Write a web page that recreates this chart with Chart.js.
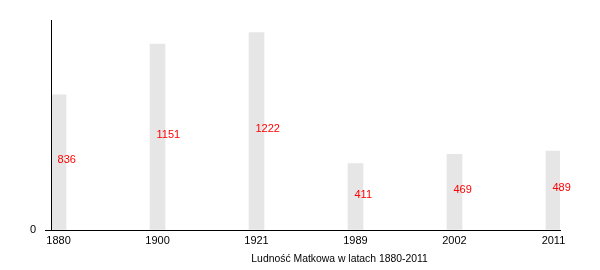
<!DOCTYPE html>
<html>
<head>
<meta charset="utf-8">
<script src="https://cdn.jsdelivr.net/npm/chart.js@4"></script>
<style>
  html, body { margin: 0; padding: 0; background: #fff; }
  #wrap { width: 600px; height: 270px; position: relative; }
</style>
</head>
<body>
<div id="wrap"><canvas id="popChart"></canvas></div>
<script>
// Data
const years = ['1880', '1900', '1921', '1989', '2002', '2011'];
const population = [836, 1151, 1222, 411, 469, 489];
const yTicks = [0];
const chartTitle = 'Ludność Matkowa w latach 1880-2011';

const FONT = '"Liberation Sans", Arial, sans-serif';

// red numbers inside the bars, a little above mid height
const barLabels = {
    id: 'barLabels',
    afterDatasetsDraw(chart) {
        const ctx = chart.ctx;
        const meta = chart.getDatasetMeta(0);
        ctx.save();
        ctx.font = '11px ' + FONT;
        ctx.fillStyle = '#ff0000';
        ctx.textAlign = 'left';
        ctx.textBaseline = 'middle';
        meta.data.forEach((bar, i) => {
            ctx.fillText(String(population[i]), bar.x - 1, (bar.y + bar.base) / 2 - 2);
        });
        ctx.restore();
    }
};

// caption under the axis (sits right of centre in the reference)
const caption = {
    id: 'caption',
    afterDraw(chart) {
        const ctx = chart.ctx;
        const area = chart.chartArea;
        ctx.save();
        ctx.font = '10.4px ' + FONT;
        ctx.fillStyle = '#000';
        ctx.textAlign = 'center';
        ctx.textBaseline = 'middle';
        ctx.fillText(chartTitle, area.left + (area.right - area.left) * 0.567, 259);
        ctx.restore();
    }
};

new Chart(document.getElementById('popChart'), {
    type: 'bar',
    data: {
        datasets: [{
            data: population.map((v, i) => ({ x: i, y: v })),
            backgroundColor: '#e6e6e6',
            borderWidth: 0,
            barThickness: 15
        }]
    },
    options: {
        responsive: true,
        maintainAspectRatio: false,
        animation: false,
        layout: { padding: { top: 20, right: 40, left: 0, bottom: 0 } },
        plugins: {
            legend: { display: false },
            tooltip: { enabled: false },
            title: { display: false }
        },
        scales: {
            x: {
                type: 'linear',
                offset: false,
                min: -0.076,
                max: 5.066,
                afterFit: s => { s.height = 40; },
                afterBuildTicks: s => { s.ticks = years.map((y, i) => ({ value: i })); },
                grid: { display: true, offset: false, drawOnChartArea: false, drawTicks: false },
                border: { display: true, color: '#000', width: 1, z: 1 },
                ticks: {
                    padding: 4,
                    color: '#000',
                    font: { family: FONT, size: 11 },
                    maxRotation: 0,
                    autoSkip: false,
                    callback: v => years[v]
                }
            },
            y: {
                min: 0,
                max: 1300,
                afterFit: s => { s.width = 51; },
                afterBuildTicks: s => { s.ticks = yTicks.map(v => ({ value: v })); },
                grid: { display: true, drawOnChartArea: false, drawTicks: true, tickLength: 6, color: '#000' },
                border: { display: true, color: '#000', width: 1, z: 1 },
                ticks: {
                    padding: 9,
                    color: '#000',
                    font: { family: FONT, size: 11 }
                }
            }
        }
    },
    plugins: [barLabels, caption]
});
</script>
</body>
</html>
